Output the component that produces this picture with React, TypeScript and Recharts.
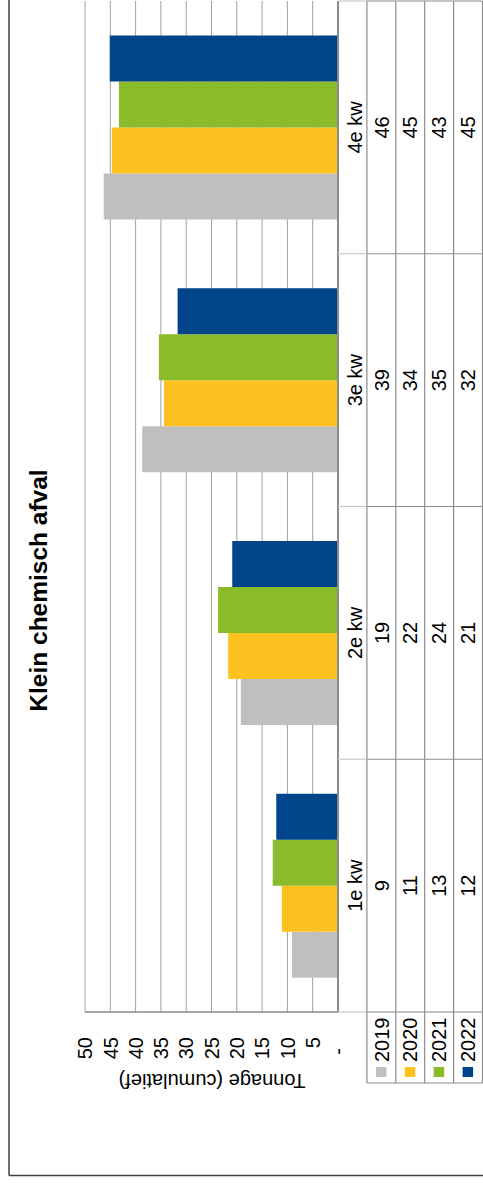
import React from 'react';
import { BarChart, Bar, XAxis, YAxis, CartesianGrid } from 'recharts';

const categories = ['1e kw', '2e kw', '3e kw', '4e kw'];
const years = ['2019', '2020', '2021', '2022'];
const v2019 = [9.1, 19.2, 38.7, 46.3];
const v2020 = [11.1, 21.7, 34.4, 44.7];
const v2021 = [12.9, 23.7, 35.4, 43.3];
const v2022 = [12.2, 20.9, 31.7, 45.1];
const yTicks = [0, 5, 10, 15, 20, 25, 30, 35, 40, 45, 50];
const colors = ['#BFBFBF', '#FDC220', '#8ABB2A', '#00448A'];
const title = 'Klein chemisch afval';
const yTitle = 'Tonnage (cumulatief)';

const seriesValues = [v2019, v2020, v2021, v2022];
const keys = years.map((y) => 'y' + y);
const data = categories.map((c, i) => {
  const row: any = { cat: c };
  keys.forEach((k, s) => (row[k] = seriesValues[s][i]));
  return row;
});

const W = 1183;
const H = 483;
const ROW = 28.9;
const LEGEND_W = 71;
const FONT = '"Liberation Sans", Arial, Helvetica, sans-serif';
const LINE = '#8c8c8c';
const LIGHT = '#c8c8c8';

const XTick = (props: any) => {
  const { x, y, payload } = props;
  const idx = payload.index;
  const half = payload.offset ? payload.offset : 126.4;
  const left = x - half;
  const right = x + half;
  const els: any[] = [];
  els.push(
    <text key="c" x={x} y={y + 24} textAnchor="middle" fontSize={20} fontFamily={FONT} fill="#000">
      {payload.value}
    </text>
  );
  seriesValues.forEach((vals, i) => {
    els.push(
      <text key={'v' + i} x={x} y={y + ROW * (i + 1) + 21.6} textAnchor="middle" fontSize={20} fontFamily={FONT} fill="#000">
        {Math.round(vals[idx])}
      </text>
    );
  });
  for (let k = 1; k <= 5; k++) {
    els.push(<line key={'h' + k} x1={left} x2={right} y1={y + ROW * k} y2={y + ROW * k} stroke={LINE} strokeWidth={1.2} />);
  }
  const verts = [left];
  if (idx === categories.length - 1) verts.push(right);
  verts.forEach((vx, j) => {
    els.push(<line key={'vl' + j} x1={vx} x2={vx} y1={y} y2={y + ROW} stroke={LIGHT} strokeWidth={1.2} />);
    els.push(<line key={'vd' + j} x1={vx} x2={vx} y1={y + ROW} y2={y + ROW * 5} stroke={LINE} strokeWidth={1.2} />);
  });
  if (idx === 0) {
    const x0 = left - LEGEND_W;
    els.push(<line key="lg0" x1={x0} x2={x0} y1={y + ROW} y2={y + ROW * 5} stroke={LINE} strokeWidth={1.2} />);
    for (let k = 1; k <= 5; k++) {
      els.push(<line key={'lh' + k} x1={x0} x2={left} y1={y + ROW * k} y2={y + ROW * k} stroke={LINE} strokeWidth={1.2} />);
    }
    years.forEach((yr, i) => {
      const top = y + ROW * (i + 1);
      els.push(<rect key={'ls' + i} x={x0 + 6} y={top + 9} width={10} height={10.5} fill={colors[i]} />);
      els.push(
        <text key={'lt' + i} x={x0 + 21} y={top + 21.6} textAnchor="start" fontSize={20} fontFamily={FONT} fill="#000">
          {yr}
        </text>
      );
    });
  }
  return <g>{els}</g>;
};

const YTick = (props: any) => {
  const { x, y, payload } = props;
  const isZero = payload.value === 0;
  return (
    <text x={isZero ? x - 11 : x} y={y + 7.2} textAnchor="end" fontSize={20} fontFamily={FONT} fill="#000">
      {isZero ? '-' : payload.value}
    </text>
  );
};

export default function App() {
  return (
    <div style={{ position: 'absolute', left: 0, top: 0, width: 483, height: 1183, overflow: 'hidden', background: '#fff' }}>
      <div
        style={{
          position: 'absolute',
          left: 0,
          top: 0,
          width: W,
          height: H,
          transformOrigin: '0 0',
          transform: 'translateY(1183px) rotate(-90deg)',
          background: '#fff',
        }}
      >
        <BarChart
          width={W}
          height={H}
          data={data}
          margin={{ top: 85, right: 1, left: 100, bottom: 0 }}
          barCategoryGap="13.6%"
          barGap={0}
        >
          <CartesianGrid vertical={false} stroke="#a0a0a0" strokeWidth={1} />
          <XAxis
            dataKey="cat"
            height={145}
            tickSize={0}
            tickMargin={0}
            tickLine={false}
            interval={0}
            axisLine={{ stroke: '#8a8a8a', strokeWidth: 2 }}
            tick={<XTick />}
          />
          <YAxis
            width={71}
            domain={[0, 50]}
            ticks={yTicks}
            interval={0}
            tickSize={0}
            tickMargin={25}
            tickLine={false}
            axisLine={{ stroke: '#8a8a8a', strokeWidth: 1.5 }}
            tick={<YTick />}
          />
          {keys.map((k, i) => (
            <Bar key={k} dataKey={k} fill={colors[i]} isAnimationActive={false} />
          ))}
        </BarChart>
        <svg width={W} height={H} style={{ position: 'absolute', left: 0, top: 0, pointerEvents: 'none' }}>
          <line x1={7.5} x2={W} y1={9} y2={9} stroke="#404040" strokeWidth={1.5} />
          <line x1={7.5} x2={7.5} y1={9} y2={H} stroke="#404040" strokeWidth={1.5} />
          <text x={592.5} y={47} textAnchor="middle" fontSize={24.5} fontWeight="bold" fontFamily={FONT} fill="#000">
            {title}
          </text>
          <text
            x={109.5}
            y={212}
            textAnchor="middle"
            fontSize={20}
            fontFamily={FONT}
            fill="#000"
            transform="rotate(-90 109.5 212)"
          >
            {yTitle}
          </text>
        </svg>
      </div>
    </div>
  );
}
